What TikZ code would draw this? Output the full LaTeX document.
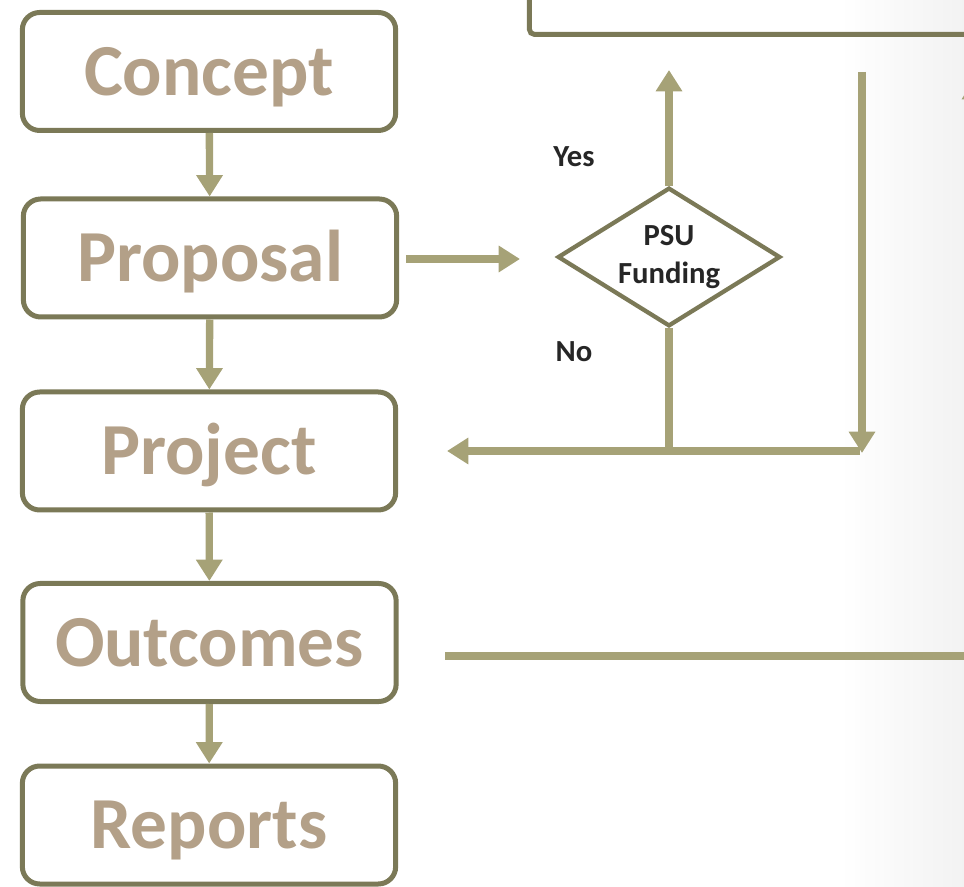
\documentclass[tikz,border=0pt]{standalone}
\usepackage{fontspec}
\setmainfont{Carlito}
\usetikzlibrary{arrows.meta,shapes.geometric}

\definecolor{frameolive}{RGB}{123,121,87}
\definecolor{arrowolive}{RGB}{166,162,119}
\definecolor{stagetan}{RGB}{179,160,136}
\definecolor{labeldark}{RGB}{38,38,38}

\tikzset{every picture/.style={line width=0.75pt}}
\tikzset{
  stagebox/.style={draw=frameolive, line width=3.75pt, rounded corners=13pt, fill=white,
    minimum width=280pt, minimum height=88.5pt, inner sep=0pt, text=stagetan,
    text height=35.4pt, text depth=0pt,
    font=\fontsize{55}{60}\selectfont\bfseries},
  flowline/.style={draw=arrowolive, line width=5.5pt},
  flowarrow/.style={flowline, -{Triangle[width=19pt,length=16pt]}},
  decision/.style={diamond, aspect=1.6, draw=frameolive, line width=3.2pt, minimum width=167pt,
    minimum height=104pt, inner sep=0pt, align=center, text=labeldark,
    font=\fontsize{23}{28}\selectfont\bfseries},
  answer/.style={text=labeldark, font=\fontsize{23}{28}\selectfont\bfseries},
}

\begin{document}
\begin{tikzpicture}[x=0.75pt,y=0.75pt,yscale=-1,xscale=1]
	\useasboundingbox (0,0) rectangle (964,887);
	\clip (0,0) rectangle (964,887);
	%slide shade on the right
	\shade [left color=white, right color=black!5] (840,0) rectangle (964,887);

	%Shape: Rectangle [id:review] 
	\node [draw=frameolive, line width=3.75pt, rounded corners=4pt, minimum width=391pt, minimum height=97.5pt] (review) at (790,-30.5) {};

	% Text Node
	\node [stagebox] (concept) at (209,71.5) {Concept};
	% Text Node
	\node [stagebox] (proposal) at (210,258) {Proposal};
	% Text Node
	\node [stagebox] (project) at (209,451) {Project};
	% Text Node
	\node [stagebox] (outcomes) at (209.5,642.5) {Outcomes};
	% Text Node
	\node [stagebox] (reports) at (209,825) {Reports};

	% Text Node
	\node [decision] (funding) at (669,257) {PSU\\Funding};
	% Text Node
	\node [answer] (yes) at (574,157) {Yes};
	% Text Node
	\node [answer] (no) at (574,352) {No};

	%free ends
	\coordinate (propend) at (520,259);
	\coordinate (yesend) at (669,70);
	\coordinate (junc) at (669,451);
	\coordinate (noend) at (447,451);
	\coordinate (backcorner) at (860,451);
	\coordinate (backtop) at (862,72);
	\coordinate (backend) at (862,453);
	\coordinate (outstart) at (445,656);
	\coordinate (outend) at (990,656);
	\coordinate (sidebot) at (975,300);
	\coordinate (sidetop) at (975,78);

	%Straight Lines: main flow
	\draw [flowarrow] (concept) -- (proposal);
	\draw [flowarrow] (proposal) -- (project);
	\draw [flowarrow] (project) -- (outcomes);
	\draw [flowarrow] (outcomes) -- (reports);

	%Straight Lines: funding branch
	\draw [flowarrow, shorten <=5pt] (proposal.east |- propend) -- (propend);
	\draw [flowarrow] (funding.north) -- (yesend);
	\draw [flowline] (funding.south) -- (junc);
	\draw [flowarrow] (junc) -- (noend);
	\draw [flowline] (junc) -- (backcorner);
	\draw [flowarrow] (backtop) -- (backend);

	%Straight Lines: outcomes out
	\draw [flowline] (outstart) -- (outend);
	\draw [flowarrow] (sidebot) -- (sidetop);

\end{tikzpicture}
\end{document}
